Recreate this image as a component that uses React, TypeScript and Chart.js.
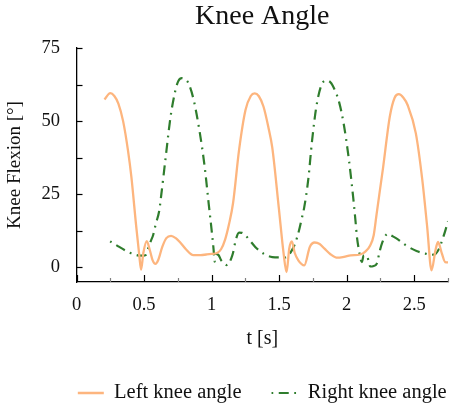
import React, { useEffect, useRef } from 'react';
import { Chart, registerables } from 'chart.js';

Chart.register(...registerables);

const leftT = [0.207, 0.25, 0.28, 0.31, 0.345, 0.381, 0.406, 0.442, 0.465, 0.478, 0.495, 0.52, 0.545, 0.563, 0.585, 0.605, 0.635, 0.665, 0.7, 0.735, 0.768, 0.81, 0.865, 0.92, 0.961, 1.0, 1.04, 1.07, 1.1, 1.13, 1.159, 1.203, 1.251, 1.29, 1.319, 1.35, 1.384, 1.42, 1.449, 1.497, 1.533, 1.555, 1.575, 1.594, 1.615, 1.642, 1.686, 1.727, 1.763, 1.8, 1.836, 1.88, 1.932, 1.98, 2.03, 2.1, 2.14, 2.174, 2.2, 2.222, 2.27, 2.319, 2.355, 2.386, 2.42, 2.451, 2.512, 2.56, 2.596, 2.628, 2.657, 2.676, 2.705, 2.729, 2.75];
const leftV = [57.4, 59.6, 58.6, 56, 50, 40, 31, 14, 4, -0.8, 5, 9, 5.5, 2.5, 1.2, 2.5, 7, 10, 10.8, 10, 8.5, 6.2, 4.2, 4.2, 4.4, 4.6, 4.9, 6.2, 9.5, 15, 22, 40, 53.8, 58.6, 59.5, 58.5, 55, 48, 41, 20.6, 4.8, -1.6, 6.5, 8.9, 5, 2.4, 0.7, 7, 8.5, 8, 6.4, 4.5, 3.3, 3.6, 4.1, 4.4, 5.5, 7.5, 11, 18.4, 34.3, 51.5, 58, 59.2, 58, 55.5, 45.8, 29.8, 13.8, -1.0, 5.8, 8.7, 4.7, 1.8, 1.7];

const rightT = [0.249, 0.309, 0.36, 0.393, 0.454, 0.49, 0.514, 0.531, 0.55, 0.567, 0.587, 0.611, 0.628, 0.659, 0.696, 0.732, 0.755, 0.78, 0.805, 0.828, 0.865, 0.908, 0.949, 0.978, 1.002, 1.015, 1.022, 1.035, 1.05, 1.07, 1.09, 1.111, 1.13, 1.145, 1.159, 1.178, 1.203, 1.225, 1.251, 1.29, 1.323, 1.352, 1.384, 1.449, 1.5, 1.546, 1.575, 1.594, 1.618, 1.647, 1.667, 1.686, 1.715, 1.744, 1.775, 1.812, 1.848, 1.875, 1.896, 1.944, 1.98, 2.017, 2.048, 2.065, 2.077, 2.091, 2.105, 2.113, 2.125, 2.15, 2.163, 2.174, 2.2, 2.222, 2.246, 2.265, 2.29, 2.307, 2.33, 2.379, 2.439, 2.517, 2.584, 2.62, 2.657, 2.685, 2.705, 2.729, 2.75];
const rightV = [8.9, 7.2, 5.8, 5.0, 4.1, 4.0, 4.3, 6.5, 9, 11, 14.9, 19, 25, 37.2, 51.4, 60.5, 63.8, 64.7, 64.3, 63, 57.7, 47.4, 34.3, 22, 12, 6, 2, 4.5, 4.3, 2.5, 1.5, 0.8, 1.5, 3, 5, 9.2, 11.9, 11.8, 10.9, 8.8, 7, 5.8, 4.7, 3.5, 3.4, 3.4, 4.5, 5.8, 8.1, 12.6, 16.6, 20.6, 29.8, 43.4, 54.8, 62.2, 63.9, 63.5, 62.2, 56.5, 48.5, 36.6, 24, 16, 10, 5.8, 2.5, 1.8, 4, 4, 2, 0.3, 0.5, 1.2, 5.8, 8.7, 11, 11.5, 10.9, 9.6, 7.5, 5.6, 4.7, 4.3, 4.6, 6.5, 9, 12.4, 15.8];

const xTickValues = [0, 0.25, 0.5, 0.75, 1, 1.25, 1.5, 1.75, 2, 2.25, 2.5, 2.75];
const xTickLabels = ['0', '', '0.5', '', '1', '', '1.5', '', '2', '', '2.5', ''];
const yTickValues = [0, 12.5, 25, 37.5, 50, 62.5, 75];
const yTickLabels = ['0', '', '25', '', '50', '', '75'];

const FONT = "'Liberation Serif', 'Times New Roman', serif";
const ORANGE = 'rgb(253,181,126)';
const GREEN = 'rgb(47,125,45)';
const TEXT = '#111';

const innerTicks = {
  id: 'innerTicks',
  afterDraw(chart: any) {
    const { ctx, chartArea, scales } = chart;
    ctx.save();
    ctx.lineWidth = 1.2;
    ctx.setLineDash([]);
    scales.x.ticks.forEach((t: any) => {
      const major = Math.abs(t.value * 2 - Math.round(t.value * 2)) < 1e-6;
      const px = Math.round(scales.x.getPixelForValue(t.value)) + 0.5;
      ctx.strokeStyle = major ? '#000' : '#808080';
      ctx.beginPath();
      ctx.moveTo(px, chartArea.bottom);
      ctx.lineTo(px, chartArea.bottom - (major ? 7 : 4));
      ctx.stroke();
    });
    scales.y.ticks.forEach((t: any) => {
      const py = Math.round(scales.y.getPixelForValue(t.value)) + 0.5;
      ctx.strokeStyle = '#000';
      ctx.beginPath();
      ctx.moveTo(chartArea.left, py);
      ctx.lineTo(chartArea.left + 6, py);
      ctx.stroke();
    });
    ctx.restore();
  },
};

// centre the legend and title on the plot area, like the reference
const centreBoxes = {
  id: 'centreBoxes',
  afterLayout(chart: any) {
    const mid = (chart.chartArea.left + chart.chartArea.right) / 2;
    [chart.legend, chart.titleBlock].forEach((b: any) => {
      if (!b) return;
      const d = mid - (b.left + b.right) / 2;
      b.left += d;
      b.right += d;
    });
  },
};

export default function App() {
  const ref = useRef<HTMLCanvasElement | null>(null);

  useEffect(() => {
    document.body.style.margin = '0';
    const canvas = ref.current;
    if (!canvas) return;
    Chart.defaults.font.family = FONT;
    Chart.defaults.color = TEXT;

    const chart = new Chart(canvas, {
      type: 'line',
      data: {
        datasets: [
          {
            label: 'Left knee angle',
            data: leftT.map((t, i) => ({ x: t, y: leftV[i] })),
            borderColor: ORANGE,
            backgroundColor: ORANGE,
            borderWidth: 2.3,
            pointRadius: 0,
            cubicInterpolationMode: 'monotone',
            fill: false,
          },
          {
            label: 'Right knee angle',
            data: rightT.map((t, i) => ({ x: t, y: rightV[i] })),
            borderColor: GREEN,
            backgroundColor: GREEN,
            borderWidth: 2.2,
            borderDash: [10, 5.5, 1.8, 5.5],
            borderDashOffset: 15.6,
            pointRadius: 0,
            cubicInterpolationMode: 'monotone',
            fill: false,
          },
        ],
      },
      options: {
        responsive: false,
        animation: false,
        devicePixelRatio: 1,
        layout: { padding: { top: 0, left: 0, right: 4, bottom: -7.25 } },
        plugins: {
          title: {
            display: true,
            text: 'Knee Angle',
            fullSize: false,
            color: TEXT,
            font: { family: FONT, size: 28, weight: 'normal' },
            padding: { top: 0.3, bottom: 14.1 },
          },
          legend: {
            position: 'bottom',
            fullSize: true,
            labels: {
              usePointStyle: true,
              pointStyle: 'line',
              pointStyleWidth: 26,
              padding: 30,
              color: TEXT,
              font: { family: FONT, size: 20.5 },
              generateLabels: (c: any) =>
                c.data.datasets.map((ds: any, i: number) => ({
                  text: ds.label,
                  datasetIndex: i,
                  hidden: false,
                  fillStyle: ds.borderColor,
                  strokeStyle: ds.borderColor,
                  lineWidth: ds.borderWidth,
                  lineDash: ds.borderDash || [],
                  lineDashOffset: ds.borderDashOffset || 0,
                  lineCap: 'butt',
                  pointStyle: 'line',
                  fontColor: TEXT,
                })),
            },
          },
          tooltip: { enabled: false },
        },
        scales: {
          x: {
            type: 'linear',
            min: 0,
            max: 2.75,
            afterBuildTicks: (scale: any) => {
              scale.ticks = xTickValues.map((v) => ({ value: v }));
            },
            afterFit: (scale: any) => {
              scale.height = 70.75;
            },
            grid: { drawOnChartArea: false, drawTicks: false },
            border: { display: true, color: '#000', width: 1.3 },
            ticks: {
              autoSkip: false,
              maxRotation: 0,
              padding: 12,
              color: TEXT,
              font: { family: FONT, size: 18.5 },
              callback: (_v: any, i: number) => xTickLabels[i] ?? '',
            },
            title: {
              display: true,
              text: 't [s]',
              color: TEXT,
              font: { family: FONT, size: 20 },
              padding: { top: 0, bottom: 1.75 },
            },
          },
          y: {
            type: 'linear',
            min: -5,
            max: 75,
            afterBuildTicks: (scale: any) => {
              scale.ticks = yTickValues.map((v) => ({ value: v }));
            },
            afterFit: (scale: any) => {
              scale.width = 76.5;
            },
            grid: { drawOnChartArea: false, drawTicks: false },
            border: { display: true, color: '#000', width: 1.3 },
            ticks: {
              autoSkip: false,
              padding: 16.5,
              color: TEXT,
              font: { family: FONT, size: 18.5 },
              callback: (_v: any, i: number) => yTickLabels[i] ?? '',
            },
            title: {
              display: true,
              text: 'Knee Flexion [°]',
              color: TEXT,
              font: { family: FONT, size: 19 },
              padding: { top: 3.5, bottom: 0 },
            },
          },
        },
      },
      plugins: [innerTicks, centreBoxes],
    } as any);

    return () => chart.destroy();
  }, []);

  return (
    <div style={{ position: 'fixed', left: 0, top: 0, width: 460, height: 406, background: '#fff' }}>
      <canvas ref={ref} width={460} height={406} style={{ width: 460, height: 406, display: 'block' }} />
    </div>
  );
}
